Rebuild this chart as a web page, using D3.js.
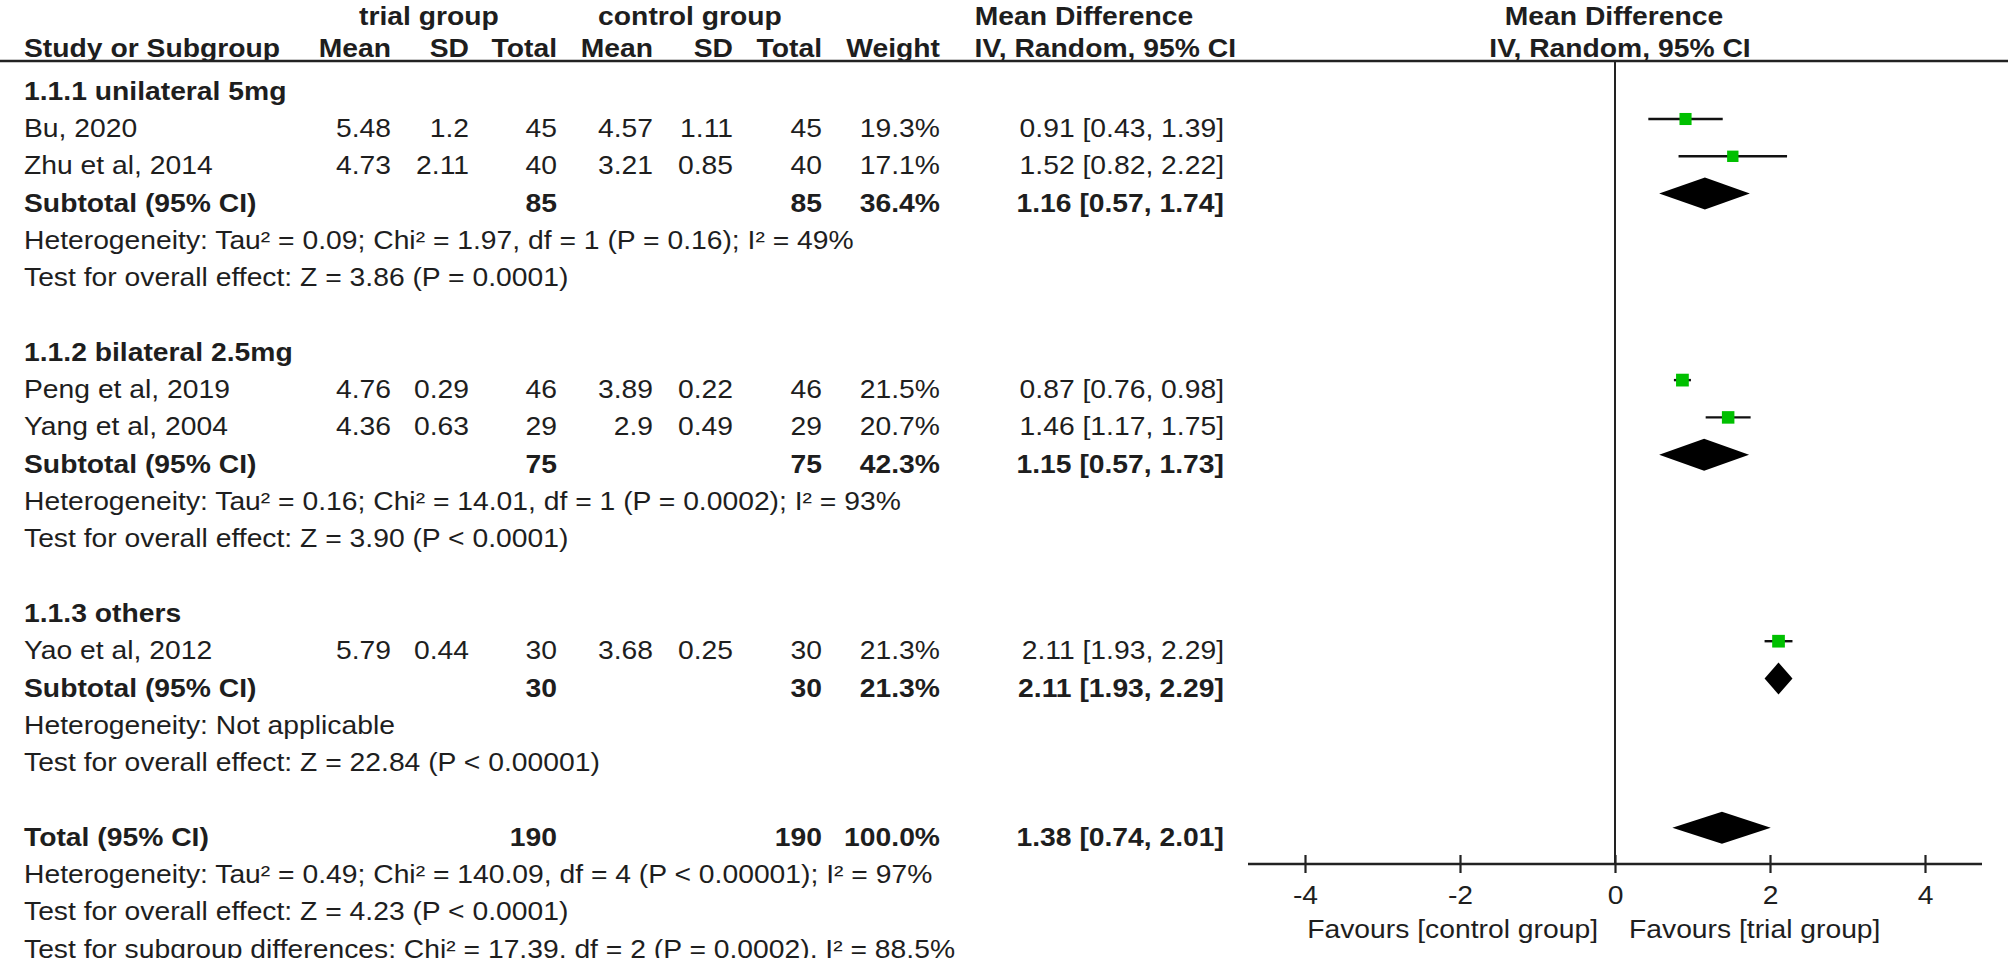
<!DOCTYPE html>
<html>
<head>
<meta charset="utf-8">
<script src="https://cdn.jsdelivr.net/npm/d3@7/dist/d3.min.js"></script>
<style>
  html, body { margin: 0; padding: 0; background: #ffffff; }
  svg { display: block; }
  text { font-family: "Liberation Sans", Arial, Helvetica, sans-serif; fill: #1e1e1e; }
</style>
</head>
<body>
<svg id="chart" width="2008" height="958"></svg>
<script>
// ---------------- data ----------------
const studies   = ["Bu, 2020", "Zhu et al, 2014", "Peng et al, 2019", "Yang et al, 2004", "Yao et al, 2012"];
const studyGroup = [0, 0, 1, 1, 2];
const trialMean = ["5.48", "4.73", "4.76", "4.36", "5.79"];
const trialSD   = ["1.2", "2.11", "0.29", "0.63", "0.44"];
const trialN    = [45, 40, 46, 29, 30];
const ctrlMean  = ["4.57", "3.21", "3.89", "2.9", "3.68"];
const ctrlSD    = ["1.11", "0.85", "0.22", "0.49", "0.25"];
const ctrlN     = [45, 40, 46, 29, 30];
const weights   = [19.3, 17.1, 21.5, 20.7, 21.3];
const md        = [0.91, 1.52, 0.87, 1.46, 2.11];
const ciLow     = [0.43, 0.82, 0.76, 1.17, 1.93];
const ciHigh    = [1.39, 2.22, 0.98, 1.75, 2.29];

const groups     = ["1.1.1 unilateral 5mg", "1.1.2 bilateral 2.5mg", "1.1.3 others"];
const subTrialN  = [85, 75, 30];
const subCtrlN   = [85, 75, 30];
const subWeight  = [36.4, 42.3, 21.3];
const subMD      = [1.16, 1.15, 2.11];
const subLow     = [0.57, 0.57, 1.93];
const subHigh    = [1.74, 1.73, 2.29];
const subHet     = [
  "Heterogeneity: Tau\u00B2 = 0.09; Chi\u00B2 = 1.97, df = 1 (P = 0.16); I\u00B2 = 49%",
  "Heterogeneity: Tau\u00B2 = 0.16; Chi\u00B2 = 14.01, df = 1 (P = 0.0002); I\u00B2 = 93%",
  "Heterogeneity: Not applicable"
];
const subTest    = [
  "Test for overall effect: Z = 3.86 (P = 0.0001)",
  "Test for overall effect: Z = 3.90 (P < 0.0001)",
  "Test for overall effect: Z = 22.84 (P < 0.00001)"
];

const totalTrialN = 190, totalCtrlN = 190, totalWeight = 100.0;
const totalMD = 1.38, totalLow = 0.74, totalHigh = 2.01;
const totalNotes = [
  "Heterogeneity: Tau\u00B2 = 0.49; Chi\u00B2 = 140.09, df = 4 (P < 0.00001); I\u00B2 = 97%",
  "Test for overall effect: Z = 4.23 (P < 0.0001)",
  "Test for subgroup differences: Chi\u00B2 = 17.39, df = 2 (P = 0.0002), I\u00B2 = 88.5%"
];

const axisTicks = [-4, -2, 0, 2, 4];
const favoursLeft = "Favours [control group]";
const favoursRight = "Favours [trial group]";

// ---------------- layout ----------------
const svg = d3.select("#chart");
const FS = 26, SX = 1.088;
const fmt2 = d3.format(".2f");
const fmtW = w => d3.format(".1f")(w) + "%";
const fmtCI = (m, l, h) => `${fmt2(m)} [${fmt2(l)}, ${fmt2(h)}]`;

const x = d3.scaleLinear().domain([-4, 4]).range([1305, 1925]);
const rowY = d3.scaleLinear().domain([0, 23]).range([81.7, 81.7 + 23 * 37.3]);
const sq = d3.scaleSqrt().domain([0, 100]).range([0, 27.5]);
const BASE = 18;

// column right edges
const col = { tMean: 391, tSD: 469, tN: 557, cMean: 653, cSD: 733, cN: 822, w: 940, ci: 1224 };
const LEFT = 24;

function txt(g, s, tx, ty, anchor, bold) {
  g.append("text")
    .attr("transform", `translate(${tx},${ty}) scale(${SX},1)`)
    .attr("text-anchor", anchor || "start")
    .attr("font-size", FS)
    .attr("font-weight", bold ? "bold" : "normal")
    .text(s);
}

const gT = svg.append("g");

// headers
txt(gT, "trial group", 429, 25, "middle", true);
txt(gT, "control group", 690, 25, "middle", true);
txt(gT, "Mean Difference", 1084, 25, "middle", true);
txt(gT, "Mean Difference", 1614, 25, "middle", true);

const H2 = 57;
txt(gT, "Study or Subgroup", LEFT, H2, "start", true);
txt(gT, "Mean", col.tMean, H2, "end", true);
txt(gT, "SD", col.tSD, H2, "end", true);
txt(gT, "Total", col.tN, H2, "end", true);
txt(gT, "Mean", col.cMean, H2, "end", true);
txt(gT, "SD", col.cSD, H2, "end", true);
txt(gT, "Total", col.cN, H2, "end", true);
txt(gT, "Weight", col.w, H2, "end", true);
txt(gT, "IV, Random, 95% CI", 1236, H2, "end", true);
txt(gT, "IV, Random, 95% CI", 1620, H2, "middle", true);

svg.append("line").attr("x1", 0).attr("x2", 2008).attr("y1", 61).attr("y2", 61)
  .attr("stroke", "#222").attr("stroke-width", 2.5);

// build row list
const rows = [];
let r = 0;
groups.forEach((gName, gi) => {
  rows.push({ type: "group", i: r++, label: gName });
  studies.forEach((s, si) => { if (studyGroup[si] === gi) rows.push({ type: "study", i: r++, si }); });
  rows.push({ type: "sub", i: r++, gi });
  rows.push({ type: "note", i: r++, label: subHet[gi] });
  rows.push({ type: "note", i: r++, label: subTest[gi] });
  r++; // blank row
});
rows.push({ type: "total", i: r++ });
totalNotes.forEach(t => rows.push({ type: "note", i: r++, label: t }));

const plot = svg.append("g");

// zero line
plot.append("line").attr("x1", x(0)).attr("x2", x(0))
  .attr("y1", 61).attr("y2", 864).attr("stroke", "#222").attr("stroke-width", 2);

function diamond(m, l, h, cy) {
  const hh = 16;
  plot.append("path")
    .attr("d", `M${x(l)},${cy} L${x(m)},${cy - hh} L${x(h)},${cy} L${x(m)},${cy + hh} Z`)
    .attr("fill", "#000");
}

rows.forEach(row => {
  const cy = rowY(row.i), by = cy + BASE;
  if (row.type === "group") {
    txt(gT, row.label, LEFT, by, "start", true);
  } else if (row.type === "note") {
    txt(gT, row.label, LEFT, by, "start", false);
  } else if (row.type === "study") {
    const k = row.si;
    txt(gT, studies[k], LEFT, by, "start", false);
    txt(gT, trialMean[k], col.tMean, by, "end", false);
    txt(gT, trialSD[k], col.tSD, by, "end", false);
    txt(gT, String(trialN[k]), col.tN, by, "end", false);
    txt(gT, ctrlMean[k], col.cMean, by, "end", false);
    txt(gT, ctrlSD[k], col.cSD, by, "end", false);
    txt(gT, String(ctrlN[k]), col.cN, by, "end", false);
    txt(gT, fmtW(weights[k]), col.w, by, "end", false);
    txt(gT, fmtCI(md[k], ciLow[k], ciHigh[k]), col.ci, by, "end", false);
    plot.append("line").attr("x1", x(ciLow[k])).attr("x2", x(ciHigh[k]))
      .attr("y1", cy).attr("y2", cy).attr("stroke", "#111").attr("stroke-width", 2.4);
    const s = sq(weights[k]);
    plot.append("rect").attr("x", x(md[k]) - s / 2).attr("y", cy - s / 2)
      .attr("width", s).attr("height", s).attr("fill", "#00c000");
  } else if (row.type === "sub") {
    const g = row.gi;
    txt(gT, "Subtotal (95% CI)", LEFT, by, "start", true);
    txt(gT, String(subTrialN[g]), col.tN, by, "end", true);
    txt(gT, String(subCtrlN[g]), col.cN, by, "end", true);
    txt(gT, fmtW(subWeight[g]), col.w, by, "end", true);
    txt(gT, fmtCI(subMD[g], subLow[g], subHigh[g]), col.ci, by, "end", true);
    diamond(subMD[g], subLow[g], subHigh[g], cy);
  } else if (row.type === "total") {
    txt(gT, "Total (95% CI)", LEFT, by, "start", true);
    txt(gT, String(totalTrialN), col.tN, by, "end", true);
    txt(gT, String(totalCtrlN), col.cN, by, "end", true);
    txt(gT, fmtW(totalWeight), col.w, by, "end", true);
    txt(gT, fmtCI(totalMD, totalLow, totalHigh), col.ci, by, "end", true);
    diamond(totalMD, totalLow, totalHigh, cy);
  }
});

// axis
const AY = 864;
plot.append("line").attr("x1", 1248).attr("x2", 1982).attr("y1", AY).attr("y2", AY)
  .attr("stroke", "#222").attr("stroke-width", 2.5);
const tickFmt = d => String(d);
const axis = d3.axisBottom(x).tickValues(axisTicks).tickSize(0).tickFormat(tickFmt);
const ag = plot.append("g").attr("transform", `translate(0,${AY})`).call(axis);
ag.select(".domain").remove();
ag.selectAll(".tick line").remove();
ag.selectAll(".tick").append("line").attr("y1", -9).attr("y2", 9)
  .attr("stroke", "#222").attr("stroke-width", 2.2);
ag.selectAll(".tick text").remove();
ag.selectAll(".tick").each(function(d) {
  txt(d3.select(this), tickFmt(d), 0, 40, "middle", false);
});

txt(plot, favoursLeft, 1598, 938, "end", false);
txt(plot, favoursRight, 1629, 938, "start", false);
</script>
</body>
</html>
